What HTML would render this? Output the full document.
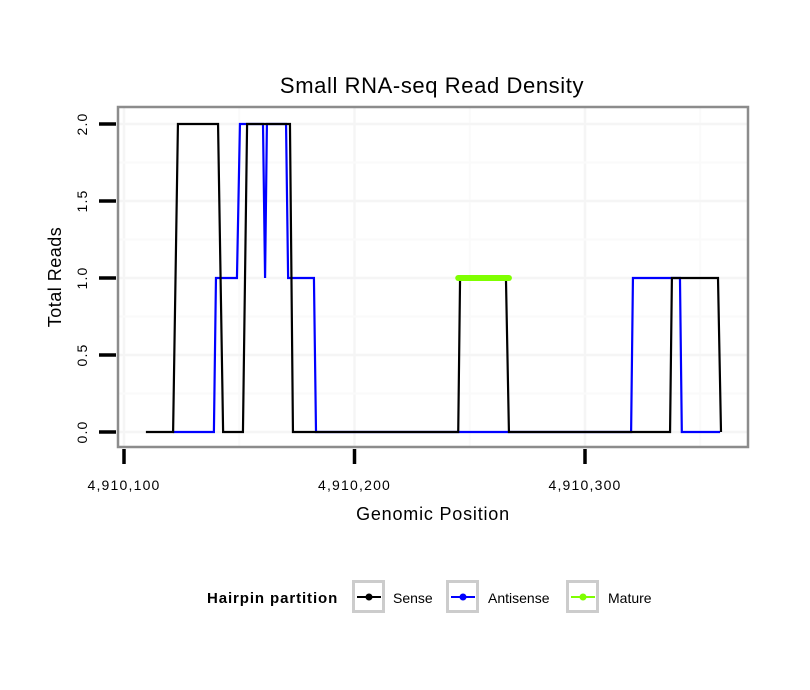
<!DOCTYPE html>
<html><head><meta charset="utf-8"><style>
body{margin:0;background:#fff;}
svg{display:block;font-family:"Liberation Sans",sans-serif;}
</style></head><body>
<svg id="chart" width="810" height="690" xmlns="http://www.w3.org/2000/svg">
<text x="432" y="93" font-size="22" letter-spacing="0.6" text-anchor="middle">Small RNA-seq Read Density</text>
<g id="grid"></g>
<g id="series"></g>
<rect x="118" y="107" width="630" height="340" fill="none" stroke="#8c8c8c" stroke-width="2.5"/>
<g id="axes"></g>
<text x="433" y="520" font-size="18" letter-spacing="0.8" text-anchor="middle">Genomic Position</text>
<text transform="translate(61,277) rotate(-90)" font-size="18" letter-spacing="0.5" text-anchor="middle">Total Reads</text>
<g>
<text x="207" y="603" font-size="15" letter-spacing="0.9" font-weight="bold">Hairpin partition</text>
<g>
<rect x="353.5" y="581.5" width="30" height="30" fill="#fff" stroke="#ccc" stroke-width="3"/>
<line x1="357" y1="597" x2="381" y2="597" stroke="#000" stroke-width="2"/><circle cx="369" cy="597" r="3.5" fill="#000"/>
<text x="393" y="603" font-size="14">Sense</text></g>
<g>
<rect x="447.5" y="581.5" width="30" height="30" fill="#fff" stroke="#ccc" stroke-width="3"/>
<line x1="451" y1="597" x2="475" y2="597" stroke="#0000ff" stroke-width="2"/><circle cx="463" cy="597" r="3.5" fill="#0000ff"/>
<text x="488" y="603" font-size="14">Antisense</text></g>
<g>
<rect x="567.5" y="581.5" width="30" height="30" fill="#fff" stroke="#ccc" stroke-width="3"/>
<line x1="571" y1="597" x2="595" y2="597" stroke="#7fff00" stroke-width="2"/><circle cx="583" cy="597" r="3.5" fill="#7fff00"/>
<text x="608" y="603" font-size="14">Mature</text></g>
</g>
</svg>
<script>
const base = 4910000;
const xTicks = [4910100, 4910200, 4910300];
const xTickLabels = ["4,910,100", "4,910,200", "4,910,300"];
const yTicks = [0, 0.5, 1, 1.5, 2];
const yTickLabels = ["0.0", "0.5", "1.0", "1.5", "2.0"];
const senseX = [109.5,121.3,123.4,140.8,143,151.6,153.4,172,173.3,245,245.8,265.7,267,336.9,337.7,357.7,359];
const senseY = [0,0,2,2,0,0,2,2,0,0,1,1,0,0,1,1,0];
const antiX = [121.3,139,139.9,149,150.3,160.3,161.2,162,170.3,171.2,182.4,183.3,320,320.8,341.2,342,358.6];
const antiY = [0,0,1,1,2,2,1,2,2,1,1,0,0,1,1,0,0];
const matureX = [245,267];
const matureY = [1,1];

const NS = "http://www.w3.org/2000/svg";
function xs(v){ return 124 + (v - 4910100) * 2.305; }
function ys(v){ return 432 - v * 154; }
function mk(tag, attrs, parent){
  const e = document.createElementNS(NS, tag);
  for (const k in attrs) e.setAttribute(k, attrs[k]);
  parent.appendChild(e); return e;
}
const grid = document.getElementById('grid');
for (let v = 4910050; v <= 4910350; v += 50) {
  const x = xs(v); if (x < 118 || x > 748) continue;
  const g = mk('line', {x1:x, x2:x, y1:107, y2:447, stroke: v % 100 === 0 ? '#f5f5f5' : '#fafafa', 'stroke-width': v % 100 === 0 ? 2.5 : 2}, grid);
  
  
}
for (let v = -0.25; v <= 2.25; v += 0.25) {
  const y = ys(v); if (y < 107 || y > 447) continue;
  const major = Math.abs(v * 2 - Math.round(v * 2)) < 1e-6;
  const g = mk('line', {x1:118, x2:748, y1:y, y2:y, stroke: major ? '#f5f5f5' : '#fafafa', 'stroke-width': major ? 2.5 : 2}, grid);
  
  
}
const series = document.getElementById('series');
function pts(X, Y){ return X.map((x, i) => xs(base + x) + ',' + ys(Y[i])).join(' '); }
const pa = mk('polyline', {points: pts(antiX, antiY), fill:'none', stroke:'#0000ff', 'stroke-width':2.2}, series);


const ps = mk('polyline', {points: pts(senseX, senseY), fill:'none', stroke:'#000', 'stroke-width':2.2}, series);


const pm = mk('polyline', {points: pts(matureX, matureY), fill:'none', stroke:'#7fff00', 'stroke-width':6, 'stroke-linecap':'round'}, series);



const axes = document.getElementById('axes');
xTicks.forEach((v, i) => {
  const x = xs(v);
  const t = mk('line', {x1:x, x2:x, y1:449, y2:464, stroke:'#000', 'stroke-width':3.5}, axes);
  
  
  const l = mk('text', {x:x, y:490, 'font-size':14, 'letter-spacing':1.2, 'text-anchor':'middle'}, axes);
  l.textContent = xTickLabels[i];
  
  
});
yTicks.forEach((v, i) => {
  const y = ys(v);
  const t = mk('line', {x1:99, x2:116, y1:y, y2:y, stroke:'#000', 'stroke-width':3.5}, axes);
  
  
  const l = mk('text', {transform:'translate(87,' + y + ') rotate(-90)', 'font-size':14, 'letter-spacing':1.2, 'text-anchor':'middle'}, axes);
  l.textContent = yTickLabels[i];
  
  
});
</script>
</body></html>
